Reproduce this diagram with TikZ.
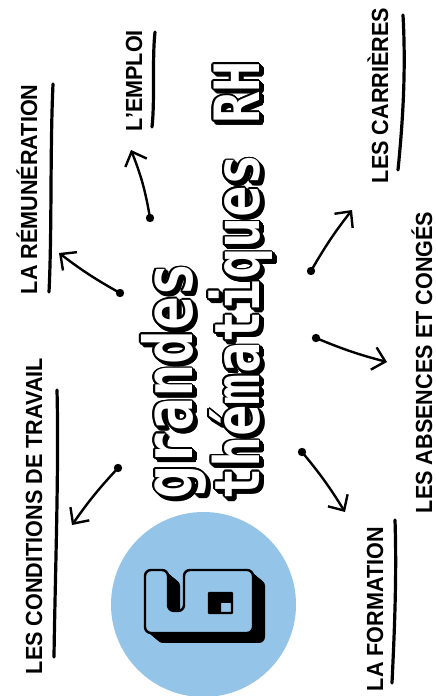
\documentclass[tikz,border=0pt]{standalone}
\usepackage{fontspec}
\setmainfont{Liberation Sans}
\newfontfamily\titlefnt{DejaVu Sans Mono}
\usetikzlibrary{arrows.meta}
\definecolor{circblue}{RGB}{148,196,231}
\tikzset{
  lbl/.style={inner sep=0pt, outer sep=0pt, anchor=base west, rotate=90, yscale=1.08,
    font=\bfseries\fontsize{21.6}{26}\selectfont},
  ttl/.style={inner sep=0pt, outer sep=0pt, anchor=base west, rotate=90, yscale=1.2,
    font=\titlefnt\bfseries\fontsize{#1}{#1}\selectfont},
  uline/.style={line width=3.2pt, line cap=round},
  arr/.style={line width=2.4pt, line cap=round, -{Straight Barb[length=12pt,width=23pt]}},
  dotmark/.style={fill=black},
  sixshape/.style={insert path={[rounded corners=6pt] (156,570) -- (168,570) -- (168,611) -- (184,611) -- (184,570) -- (253,570) -- (253,633) -- (145,633) -- (145,570) -- cycle (209,593) [sharp corners] rectangle (232,613)}},
}
\newcommand\titleline[4]{%
  \begin{scope}[shift={#2}]
    \foreach \t in {0,0.33,0.67,1}{
      \foreach \a in {0,30,...,330}{
        \node[ttl=#3, text=black] at ({\t*3.5+1.5*cos(\a)},{\t*3.5+1.5*sin(\a)}) {#4};
      }
    }
    \node[ttl=#3, text=white] (#1) at (0,0) {#4};
  \end{scope}}
\begin{document}
\begin{tikzpicture}[x=1pt,y=-1pt, line join=round]
\useasboundingbox (0,0) rectangle (436,696);
\fill[white] (0,0) rectangle (436,696);

% circle with the 6
\fill[circblue] (203.5,604.5) circle (92.5pt);
\foreach \t in {0,1,...,12}{
  \fill[black, even odd rule, shift={({1.0*\t},{0.83*\t})}] [sixshape];
}
\filldraw[fill=circblue, draw=black, line width=2.4pt, even odd rule] [sixshape];

% title
\titleline{tA}{(192,499)}{56}{grandes}
\titleline{tB}{(259,499)}{52}{thématiques RH}

% labels
\node[lbl] (cond) at (42,674) {LES CONDITIONS DE TRAVAIL};
\node[lbl] (remu) at (37,294) {LA RÉMUNÉRATION};
\node[lbl] (empl) at (142,131) {L’EMPLOI};
\node[lbl] (carr) at (388,183) {LES CARRIÈRES};
\node[lbl] (abse) at (432,513) {LES ABSENCES ET CONGÉS};
\node[lbl] (form) at (383,691) {LA FORMATION};

% underlines
\coordinate (uC1) at (57,390); \coordinate (uC2) at (54,657);
\coordinate (uR1) at (53,84);  \coordinate (uR2) at (49,292);
\coordinate (uE1) at (155,32); \coordinate (uE2) at (152,127);
\coordinate (uK1) at (403,15); \coordinate (uK2) at (398,170);
\coordinate (uF1) at (395,520); \coordinate (uF2) at (392,683);
\draw[uline] (uC1) .. controls (59,470) and (55,580) .. (uC2);
\draw[uline] (uR1) .. controls (50,150) and (52,230) .. (uR2);
\draw[uline] (uE1) .. controls (152,60) and (155,100) .. (uE2);
\draw[uline] (uK1) .. controls (406,70) and (403,120) .. (uK2);
\draw[uline] (uF1) .. controls (397,580) and (394,640) .. (uF2);

% arrows
\coordinate (dE) at (150,218); \coordinate (aE) at (131,150);
\coordinate (dR) at (120,293); \coordinate (aR) at (59,253);
\coordinate (dC) at (118,468); \coordinate (aC) at (72,525);
\coordinate (dK) at (311,271); \coordinate (aK) at (352,210);
\coordinate (dA) at (316,338); \coordinate (aA) at (387,362);
\coordinate (dF) at (302,452); \coordinate (aF) at (345,512);
\foreach \n in {E,R,C,K,A,F}{ \fill[dotmark] (d\n) circle (4.2pt); }
\draw[arr] (dE) to[bend right=6] (aE);
\draw[arr] (dR) to[bend left=4] (aR);
\draw[arr] (dC) to[bend right=4] (aC);
\draw[arr] (dK) to[bend left=4] (aK);
\draw[arr] (dA) to[bend right=4] (aA);
\draw[arr] (dF) to[bend left=4] (aF);
\end{tikzpicture}
\end{document}
